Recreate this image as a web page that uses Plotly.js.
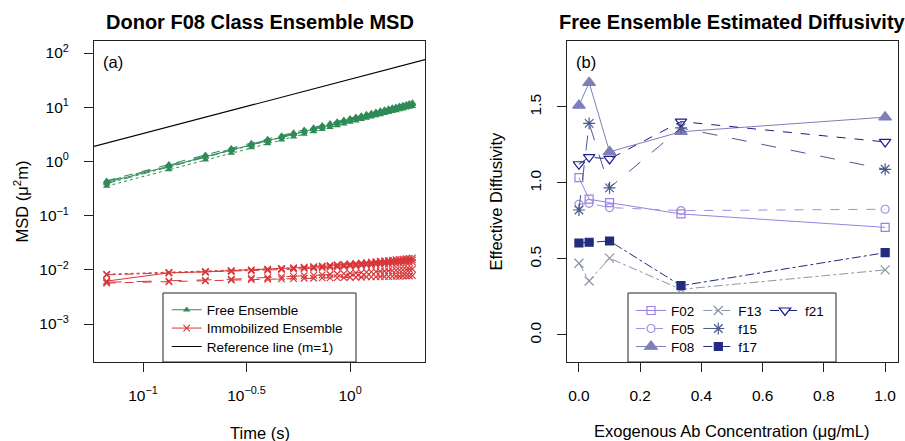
<!DOCTYPE html>
<html>
<head>
<meta charset="utf-8">
<script src="https://cdn.plot.ly/plotly-3.0.1.min.js"></script>
<style>html,body{margin:0;padding:0;background:#fff}#chart{width:905px;height:441px}</style>
</head>
<body>
<div id="chart"></div>
<script>
// ---------- Panel (a) data ----------
const timeSec = [0.0667,0.1333,0.2,0.2667,0.3333,0.4,0.4667,0.5333,0.6,0.6667,0.7333,0.8,0.8667,0.9333,1.0,1.0667,1.1333,1.2,1.2667,1.3333,1.4,1.4667,1.5333,1.6,1.6667,1.7333,1.8,1.8667,1.9333,2.0];
const freeA = [0.41,0.83,1.24,1.63,2.03,2.42,2.81,3.19,3.58,3.96,4.34,4.72,5.10,5.47,5.85,6.22,6.60,6.97,7.34,7.71,8.08,8.45,8.82,9.18,9.55,9.92,10.28,10.65,11.01,11.38];
const freeB = [0.44,0.89,1.33,1.76,2.18,2.60,3.01,3.42,3.83,4.24,4.65,5.06,5.46,5.87,6.27,6.67,7.07,7.47,7.87,8.27,8.66,9.06,9.45,9.85,10.24,10.63,11.02,11.41,11.80,12.20];
const freeC = [0.43,0.86,1.28,1.69,2.10,2.50,2.90,3.29,3.69,4.08,4.47,4.86,5.25,5.64,6.02,6.41,6.79,7.17,7.55,7.93,8.31,8.69,9.07,9.45,9.83,10.20,10.58,10.95,11.33,11.70];
const freeD = [0.35,0.71,1.07,1.43,1.79,2.14,2.50,2.85,3.20,3.55,3.90,4.25,4.60,4.94,5.29,5.63,5.98,6.32,6.66,7.00,7.34,7.68,8.02,8.36,8.70,9.04,9.37,9.71,10.04,10.38];
const freeE = [0.39,0.80,1.20,1.60,1.99,2.38,2.77,3.16,3.55,3.93,4.32,4.70,5.08,5.46,5.84,6.22,6.60,6.98,7.35,7.73,8.10,8.48,8.85,9.22,9.59,9.96,10.33,10.70,11.07,11.44];
const immR1 = [0.0083,0.0090,0.0094,0.0097,0.0100,0.0103,0.0106,0.0109,0.0112,0.0115,0.0118,0.0121,0.0124,0.0126,0.0129,0.0131,0.0134,0.0136,0.0139,0.0141,0.0144,0.0146,0.0149,0.0151,0.0154,0.0156,0.0158,0.0161,0.0163,0.0166];
const immR2 = [0.0062,0.0088,0.0092,0.0096,0.0099,0.0102,0.0105,0.0108,0.0110,0.0113,0.0115,0.0118,0.0120,0.0122,0.0124,0.0126,0.0128,0.0130,0.0132,0.0134,0.0136,0.0138,0.0140,0.0142,0.0144,0.0146,0.0147,0.0149,0.0151,0.0153];
const immR3 = [0.0057,0.0060,0.0063,0.0065,0.0066,0.0067,0.0068,0.0069,0.0070,0.0070,0.0071,0.0071,0.0072,0.0072,0.0073,0.0073,0.0073,0.0074,0.0074,0.0074,0.0075,0.0075,0.0075,0.0076,0.0076,0.0076,0.0077,0.0077,0.0077,0.0078];
const immR4 = [0.0059,0.0062,0.0064,0.0067,0.0070,0.0072,0.0074,0.0076,0.0078,0.0079,0.0081,0.0082,0.0084,0.0085,0.0087,0.0088,0.0089,0.0091,0.0092,0.0093,0.0094,0.0095,0.0096,0.0097,0.0098,0.0099,0.0100,0.0101,0.0102,0.0103];
const immR5 = [0.0081,0.0087,0.0090,0.0093,0.0096,0.0098,0.0101,0.0103,0.0105,0.0107,0.0109,0.0111,0.0113,0.0115,0.0117,0.0118,0.0120,0.0122,0.0123,0.0125,0.0126,0.0128,0.0129,0.0131,0.0132,0.0133,0.0135,0.0136,0.0137,0.0139];
const refTime = [0.05, 2.5];
const refMSD = [1.635, 81.75];
const xTickVals = [0.1, 0.31623, 1];
const xTickText = ['10<sup>\u22121</sup>','10<sup>\u22120.5</sup>','10<sup>0</sup>'];
const yTickVals = [0.001, 0.01, 0.1, 1, 10, 100];
const yTickText = ['10<sup>\u22123</sup>','10<sup>\u22122</sup>','10<sup>\u22121</sup>','10<sup>0</sup>','10<sup>1</sup>','10<sup>2</sup>'];

// ---------- Panel (b) data ----------
const abConc = [0, 0.0333, 0.1, 0.3333, 1.0];
const donorNames = ['F02','F05','F08','F13','f15','f17','f21'];
const diffF02 = [1.035, 0.893, 0.870, 0.796, 0.708];
const diffF05 = [0.860, 0.866, 0.838, 0.818, 0.827];
const diffF08 = [1.510, 1.660, 1.205, 1.337, 1.433];
const diffF13 = [0.472, 0.355, 0.505, 0.300, 0.428];
const difff15 = [0.822, 1.392, 0.968, 1.362, 1.090];
const difff17 = [0.605, 0.610, 0.618, 0.324, 0.541];
const difff21 = [1.123, 1.170, 1.158, 1.404, 1.270];

const FONT = 'Liberation Sans, Arial, Helvetica, sans-serif';
const W = 905, H = 441;
const px = v => v / W;
const py = v => 1 - v / H;

const GREEN = '#2e8b57';
const RED = '#d9363a';

const traces = [];
const freeSets = [[freeA,'solid'],[freeB,'dash'],[freeC,'longdash'],[freeD,'dot'],[freeE,'dashdot']];
freeSets.forEach((s, i) => {
  traces.push({
    x: timeSec, y: s[0], xaxis: 'x', yaxis: 'y', type: 'scatter', mode: 'lines+markers',
    name: 'Free Ensemble', showlegend: i === 0, legend: 'legend',
    line: {color: GREEN, width: 1, dash: s[1]},
    marker: {symbol: 'triangle-up', size: 6.5, color: GREEN}
  });
});
const immSets = [[immR2,'solid'],[immR1,'dot'],[immR3,'dash'],[immR4,'longdash'],[immR5,'dashdot']];
immSets.forEach((s, i) => {
  traces.push({
    x: timeSec, y: s[0], xaxis: 'x', yaxis: 'y', type: 'scatter', mode: 'lines+markers',
    name: 'Immobilized Ensemble', showlegend: i === 0, legend: 'legend2',
    line: {color: RED, width: 1, dash: s[1]},
    marker: {symbol: 'x-thin-open', size: 6.5, color: RED, line: {color: RED, width: 1.2}}
  });
});
traces.push({
  x: refTime, y: refMSD, xaxis: 'x', yaxis: 'y', type: 'scatter', mode: 'lines',
  name: 'Reference line (m=1)', legend: 'legend3',
  line: {color: '#000', width: 1.2}
});

const bStyles = [
  {y: diffF02, color: '#9a80e2', dash: 'solid', symbol: 'square-open', size: 8, leg: 'legend4'},
  {y: diffF05, color: '#a08ee0', dash: 'dash', symbol: 'circle-open', size: 8, leg: 'legend5'},
  {y: diffF08, color: '#7e7eb8', dash: 'solid', symbol: 'triangle-up', size: 11, leg: 'legend6'},
  {y: diffF13, color: '#8a96a6', dash: 'dashdot', symbol: 'x-thin-open', size: 9, leg: 'legend7'},
  {y: difff15, color: '#4b5a8e', dash: 'longdash', symbol: 'asterisk-open', size: 10, leg: 'legend8'},
  {y: difff17, color: '#232b7e', dash: 'dashdot', symbol: 'square', size: 8, leg: 'legend9'},
  {y: difff21, color: '#1c1c8c', dash: 'dash', symbol: 'triangle-down-open', size: 10, leg: 'legend10'}
];
bStyles.forEach((s, i) => {
  traces.push({
    x: abConc, y: s.y, xaxis: 'x2', yaxis: 'y2', type: 'scatter', mode: 'lines+markers',
    name: donorNames[i], legend: s.leg,
    line: {color: s.color, width: 1, dash: s.dash},
    marker: {symbol: s.symbol, size: s.size, color: s.color, line: {color: s.color, width: 1.2}}
  });
});

function leg(textX, rowY) {
  return {
    x: px(textX - 40), y: py(rowY), xanchor: 'left', yanchor: 'middle',
    bgcolor: 'rgba(0,0,0,0)', borderwidth: 0, tracegroupgap: 0,
    font: {family: FONT, size: 13.5, color: '#000'}
  };
}

const axBase = {
  showline: true, mirror: true, linecolor: '#222', linewidth: 1,
  ticks: 'outside', ticklen: 9, tickwidth: 1, tickcolor: '#222',
  showgrid: false, zeroline: false,
  tickfont: {family: FONT, size: 15.5, color: '#000'}
};

const layout = {
  width: W, height: H,
  margin: {l: 0, r: 0, t: 0, b: 0},
  paper_bgcolor: '#fff', plot_bgcolor: '#fff',
  showlegend: true,
  xaxis: Object.assign({}, axBase, {
    domain: [px(94), px(425)], type: 'log', range: [-1.237, 0.362],
    tickvals: xTickVals, ticktext: xTickText, anchor: 'y', ticklabelstandoff: 10
  }),
  yaxis: Object.assign({}, axBase, {
    domain: [1 - 362 / H, 1 - 41 / H], type: 'log', range: [-3.70, 2.222],
    tickvals: yTickVals, ticktext: yTickText, anchor: 'x', ticklabelstandoff: 12
  }),
  xaxis2: Object.assign({}, axBase, {
    domain: [px(567), px(898)], range: [-0.039, 1.042],
    tickvals: [0, 0.2, 0.4, 0.6, 0.8, 1.0], tickformat: '.1f', anchor: 'y2', ticklabelstandoff: 10
  }),
  yaxis2: Object.assign({}, axBase, {
    domain: [1 - 362 / H, 1 - 41 / H], range: [-0.178, 1.934],
    tickvals: [0, 0.5, 1.0, 1.5], tickformat: '.1f', tickangle: -90, anchor: 'x2', ticklabelstandoff: 10
  }),
  legend: leg(206.7, 310),
  legend2: leg(206.7, 328.3),
  legend3: leg(206.7, 346.7),
  legend4: leg(671, 310.7),
  legend5: leg(671, 328.7),
  legend6: leg(671, 346.7),
  legend7: leg(738.3, 310.7),
  legend8: leg(738.3, 328.7),
  legend9: leg(738.3, 346.7),
  legend10: leg(805, 310.7),
  shapes: [
    {type: 'rect', xref: 'paper', yref: 'paper', x0: px(163), x1: px(356), y0: py(362), y1: py(293),
     line: {color: '#222', width: 1}, fillcolor: '#fff', layer: 'below'},
    {type: 'rect', xref: 'paper', yref: 'paper', x0: px(628), x1: px(836), y0: py(362), y1: py(293),
     line: {color: '#222', width: 1}, fillcolor: '#fff', layer: 'below'}
  ],
  annotations: [
    {text: '<b>Donor F08 Class Ensemble MSD</b>', xref: 'paper', yref: 'paper', x: px(259.5), y: py(22),
     xanchor: 'center', yanchor: 'middle', showarrow: false, font: {family: FONT, size: 20, color: '#000'}},
    {text: '<b>Free Ensemble Estimated Diffusivity</b>', xref: 'paper', yref: 'paper', x: px(732), y: py(22),
     xanchor: 'center', yanchor: 'middle', showarrow: false, font: {family: FONT, size: 20, color: '#000'}},
    {text: '(a)', xref: 'paper', yref: 'paper', x: px(101), y: py(62), xanchor: 'left', yanchor: 'middle',
     showarrow: false, font: {family: FONT, size: 16.5, color: '#000'}},
    {text: '(b)', xref: 'paper', yref: 'paper', x: px(574), y: py(62), xanchor: 'left', yanchor: 'middle',
     showarrow: false, font: {family: FONT, size: 16.5, color: '#000'}},
    {text: 'Time (s)', xref: 'paper', yref: 'paper', x: px(259.5), y: py(433), xanchor: 'center', yanchor: 'middle',
     showarrow: false, font: {family: FONT, size: 16.5, color: '#000'}},
    {text: 'MSD (\u03bc<sup>2</sup>m)', xref: 'paper', yref: 'paper', x: px(21), y: py(201.5), xanchor: 'center', yanchor: 'middle',
     textangle: -90, showarrow: false, font: {family: FONT, size: 16.5, color: '#000'}},
    {text: 'Exogenous Ab Concentration (\u03bcg/mL)', xref: 'paper', yref: 'paper', x: px(732), y: py(431), xanchor: 'center', yanchor: 'middle',
     showarrow: false, font: {family: FONT, size: 16.5, color: '#000'}},
    {text: 'Effective Diffusivity', xref: 'paper', yref: 'paper', x: px(495), y: py(201.5), xanchor: 'center', yanchor: 'middle',
     textangle: -90, showarrow: false, font: {family: FONT, size: 16.5, color: '#000'}}
  ]
};

Plotly.newPlot('chart', traces, layout, {staticPlot: true, displayModeBar: false});
</script>
</body>
</html>
